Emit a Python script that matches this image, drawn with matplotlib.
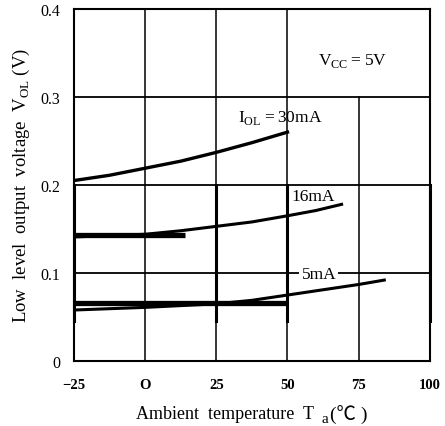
# VOL vs ambient temperature, datasheet style chart

import matplotlib.pyplot as plt
import numpy as np

plt.rcParams['font.family'] = ['Liberation Serif', 'DejaVu Serif']
plt.rcParams['mathtext.fontset'] = 'custom'
plt.rcParams['mathtext.rm'] = 'Liberation Serif'

# curves
temp_30 = [-25, -12.5, 0, 12.5, 25, 37.5, 50]
vol_30 = [0.205, 0.211, 0.219, 0.227, 0.237, 0.248, 0.260]

temp_16 = [-25, 0, 12.5, 25, 37.5, 50, 60, 69]
vol_16 = [0.141, 0.144, 0.148, 0.153, 0.158, 0.165, 0.171, 0.178]

temp_5 = [-25, 0, 25, 37.5, 50, 62.5, 75, 84]
vol_5 = [0.058, 0.061, 0.065, 0.069, 0.075, 0.081, 0.087, 0.092]

# thick bands drawn over the curves in the scan
band_16_x = [-25, 14]
band_16_y = [0.143, 0.143]
band_5_x = [-25, 50]
band_5_y = [0.066, 0.066]

xticks = [-25, 0, 25, 50, 75, 100]
xtick_labels = ['\u221225', 'O', '25', '50', '75', '100']
yticks = [0, 0.1, 0.2, 0.3, 0.4]
ytick_labels = ['0', '0.1', '0.2', '0.3', '0.4']

fig = plt.figure(figsize=(4.45, 4.27), dpi=100)
ax = fig.add_axes([0.166, 0.152, 0.800, 0.825])
ax.set_xlim(-25, 100)
ax.set_ylim(0, 0.4)

for s in ax.spines.values():
    s.set_linewidth(1.5)

# grid
for y in [0.1, 0.2, 0.3]:
    ax.axhline(y, color='black', linewidth=1.3, zorder=1)
for x in [0, 25, 50]:
    ax.axvline(x, color='black', linewidth=1.1, zorder=1)
ax.plot([75, 75], [0, 0.3], color='black', linewidth=1.1, zorder=1)
# heavier parts of the vertical lines
for x in [-25, 25, 50, 100]:
    ax.plot([x, x], [0.045, 0.2], color='black', linewidth=2.2, zorder=1,
            clip_on=False)

ax.plot(temp_30, vol_30, color='black', linewidth=2.4, zorder=3)
ax.plot(temp_16, vol_16, color='black', linewidth=2.2, zorder=3)
ax.plot(temp_5, vol_5, color='black', linewidth=2.2, zorder=3)
ax.plot(band_16_x, band_16_y, color='black', linewidth=3.8, zorder=3,
        solid_capstyle='butt')
ax.plot(band_5_x, band_5_y, color='black', linewidth=3.8, zorder=3,
        solid_capstyle='butt')

ax.text(73, 0.342, r'V$_{\rm CC}$$=$5V', fontsize=12.5, ha='center', va='center')
ax.text(47.5, 0.277, r'I$_{\rm OL}$$=$30mA', fontsize=12.5, ha='center', va='center')
ax.text(59, 0.1875, '16mA', fontsize=12.5, ha='center', va='center')
ax.text(61, 0.099, '5mA', fontsize=12.5, ha='center', va='center',
        bbox=dict(facecolor='white', edgecolor='none', pad=1.5), zorder=4)

ax.set_xticks(xticks)
ax.set_xticklabels(xtick_labels, fontsize=10.5, fontweight='bold')
ax.set_yticks(yticks)
ax.set_yticklabels(ytick_labels, fontsize=11.5)
ax.tick_params(length=0, pad=10)
ax.tick_params(axis='x', pad=12)

# x label in pieces so the degree sign can come from a CJK font
fig.text(314 / 445, 1 - 415 / 427, 'Ambient  temperature  T', fontsize=13,
         ha='right', va='center')
fig.text(322 / 445, 1 - 420 / 427, 'a', fontsize=11, ha='left', va='center')
fig.text(330 / 445, 1 - 415 / 427, '(\u2103 )', fontsize=14, ha='left',
         va='center', family=['Liberation Serif', 'Noto Sans CJK SC'])

ax.set_ylabel(r'Low  level  output  voltage  V$_{\rm OL}$ (V)', fontsize=13.5,
              labelpad=6)

plt.savefig('out.png', dpi=100)
